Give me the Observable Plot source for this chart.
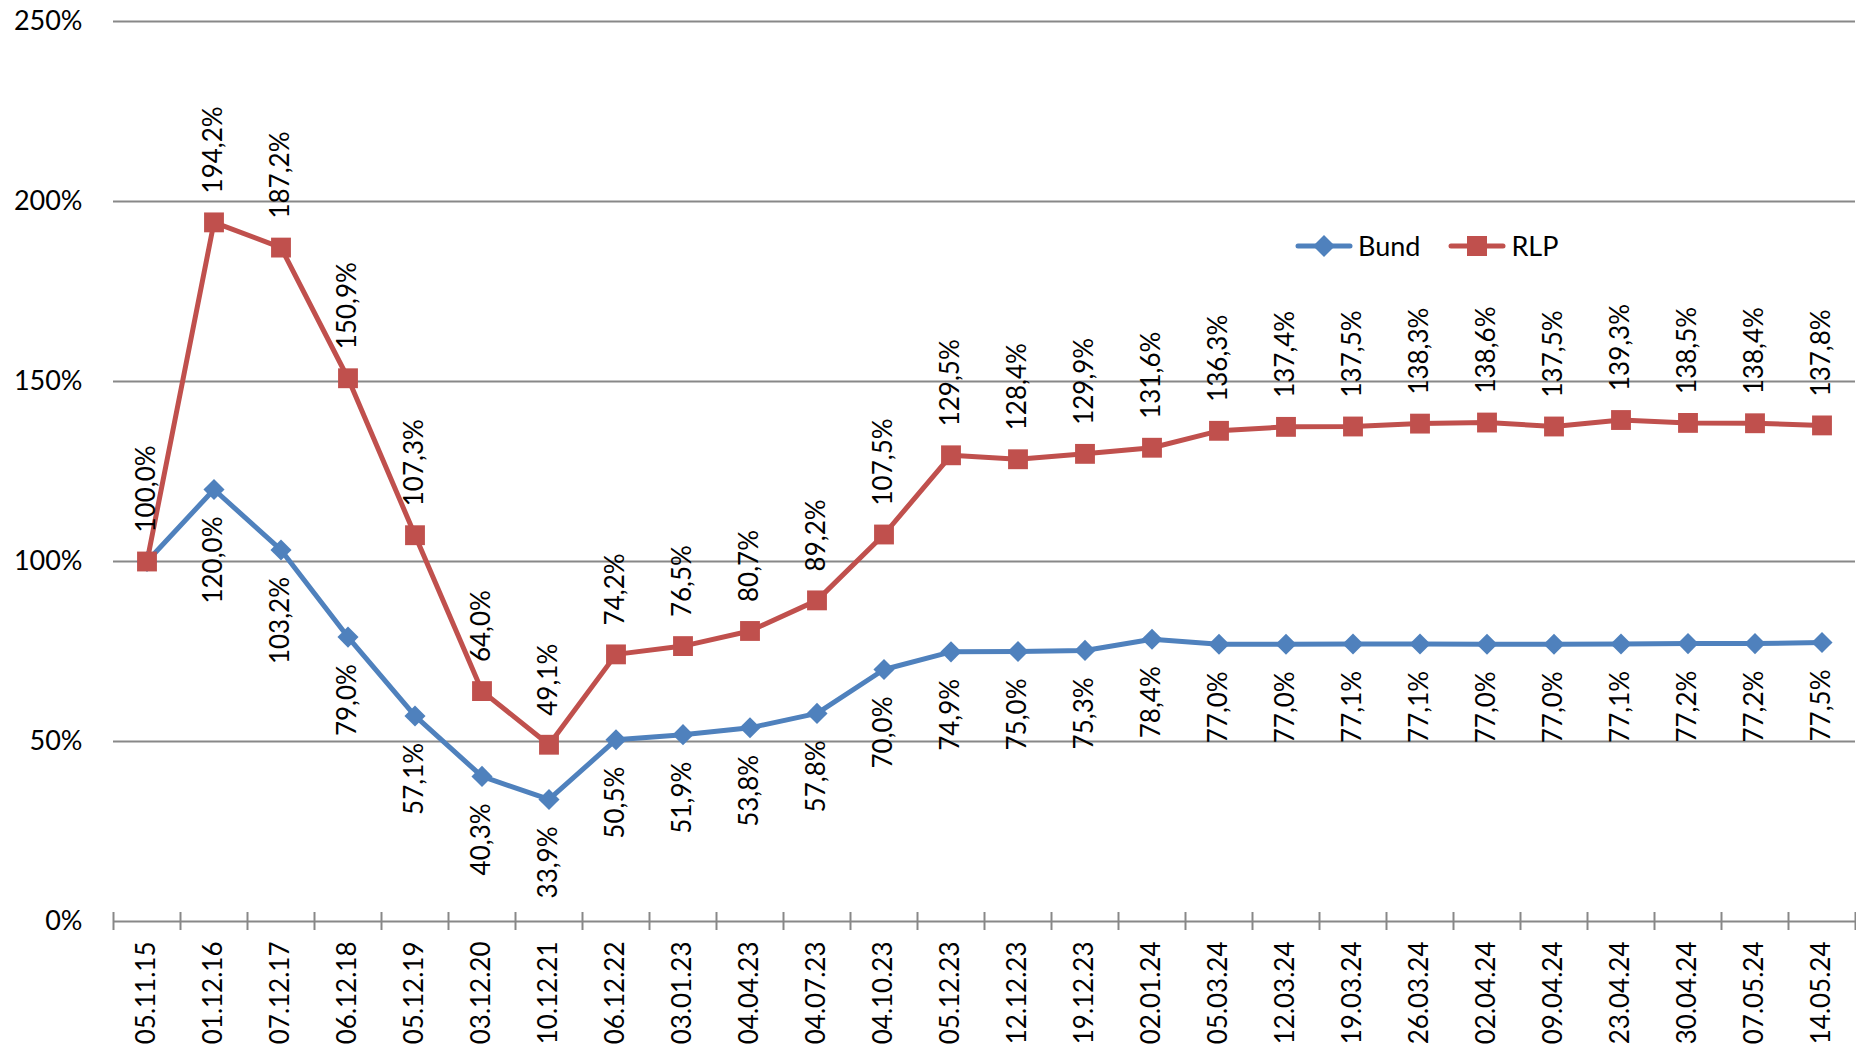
<!DOCTYPE html>
<html>
<head>
<meta charset="utf-8">
<script src="https://cdn.jsdelivr.net/npm/d3@7"></script>
<script src="https://cdn.jsdelivr.net/npm/@observablehq/plot@0.6"></script>
<style>
  html, body { margin: 0; padding: 0; background: #fff; }
  #wrap { position: relative; width: 1856px; height: 1054px; font-family: Lato, "Open Sans", sans-serif; }
  #legend { position: absolute; left: 1295px; top: 229px; display: flex; align-items: center; font-size: 27px; color: #000; }
  #legend .item { display: flex; align-items: center; }
  #legend .item span { margin-left: 5px; }
</style>
</head>
<body>
<div id="wrap">
  <div id="chart"></div>
  <div id="legend"></div>
</div>
<script>
const dates = ["05.11.15","01.12.16","07.12.17","06.12.18","05.12.19","03.12.20","10.12.21","06.12.22","03.01.23","04.04.23","04.07.23","04.10.23","05.12.23","12.12.23","19.12.23","02.01.24","05.03.24","12.03.24","19.03.24","26.03.24","02.04.24","09.04.24","23.04.24","30.04.24","07.05.24","14.05.24"];
const bund = [100.0,120.0,103.2,79.0,57.1,40.3,33.9,50.5,51.9,53.8,57.8,70.0,74.9,75.0,75.3,78.4,77.0,77.0,77.1,77.1,77.0,77.0,77.1,77.2,77.2,77.5];
const rlp = [100.0,194.2,187.2,150.9,107.3,64.0,49.1,74.2,76.5,80.7,89.2,107.5,129.5,128.4,129.9,131.6,136.3,137.4,137.5,138.3,138.6,137.5,139.3,138.5,138.4,137.8];
const yTicks = [0,50,100,150,200,250];
const seriesNames = ["Bund","RLP"];
const colors = {Bund: "#4F81BD", RLP: "#C0504D"};

const bundData = dates.map((d, i) => ({i, date: d, value: bund[i]}));
const rlpData = dates.map((d, i) => ({i, date: d, value: rlp[i]}));
const boundaries = d3.range(dates.length + 1).map(k => k - 0.5);
const fmt = v => v.toFixed(1).replace(".", ",") + "%";

const chart = Plot.plot({
  width: 1856,
  height: 1054,
  marginLeft: 113,
  marginRight: 1,
  marginTop: 21,
  marginBottom: 133,
  style: {fontFamily: "Lato, 'Open Sans', sans-serif", background: "#fff", color: "#000"},
  x: {type: "linear", domain: [-0.5, dates.length - 0.5]},
  y: {domain: [0, 250]},
  marks: [
    Plot.ruleY(yTicks, {stroke: "#888", strokeWidth: 2}),
    Plot.axisY({ticks: yTicks, tickSize: 0, tickPadding: 31, tickFormat: d => d + "%", fontSize: 27, label: null}),
    Plot.axisX({ticks: boundaries, tickSize: 9, tickFormat: () => "", stroke: "#888", strokeWidth: 2, label: null}),
    Plot.ruleX(boundaries, {y1: 0, y2: 2.5, stroke: "#888", strokeWidth: 2}),
    Plot.axisX({ticks: d3.range(dates.length), tickSize: 0, tickPadding: 20, tickRotate: -90, tickFormat: i => dates[i], fontSize: 26, label: null}),
    Plot.line(bundData, {x: "i", y: "value", stroke: colors.Bund, strokeWidth: 5, strokeLinejoin: "round"}),
    Plot.line(rlpData, {x: "i", y: "value", stroke: colors.RLP, strokeWidth: 5, strokeLinejoin: "round"}),
    Plot.dot(bundData, {x: "i", y: "value", symbol: "diamond2", r: 9.5, fill: colors.Bund, stroke: null}),
    Plot.dot(rlpData, {x: "i", y: "value", symbol: "square", r: 11.2, fill: colors.RLP, stroke: null}),
    Plot.text(rlpData, {x: "i", y: "value", text: d => fmt(d.value), rotate: -90, textAnchor: "start", dy: -29, fontSize: 26, fill: "#000"}),
    Plot.text(bundData.filter(d => d.i > 0), {x: "i", y: "value", text: d => fmt(d.value), rotate: -90, textAnchor: "end", dy: 27, fontSize: 26, fill: "#000"})
  ]
});
document.getElementById("chart").appendChild(chart);

// legend
const legend = d3.select("#legend");
seriesNames.forEach((name, k) => {
  const item = legend.append("div").attr("class", "item").style("margin-left", k ? "28px" : "0px");
  const svg = item.append("svg").attr("width", 58).attr("height", 24);
  svg.append("line").attr("x1", 3).attr("x2", 55).attr("y1", 12).attr("y2", 12)
    .attr("stroke", colors[name]).attr("stroke-width", 5).attr("stroke-linecap", "round");
  if (name === "Bund") {
    svg.append("path").attr("d", "M29,1 L40,12 L29,23 L18,12 Z").attr("fill", colors[name]);
  } else {
    svg.append("rect").attr("x", 19).attr("y", 2).attr("width", 20).attr("height", 20).attr("fill", colors[name]);
  }
  item.append("span").text(name);
});
</script>
</body>
</html>
